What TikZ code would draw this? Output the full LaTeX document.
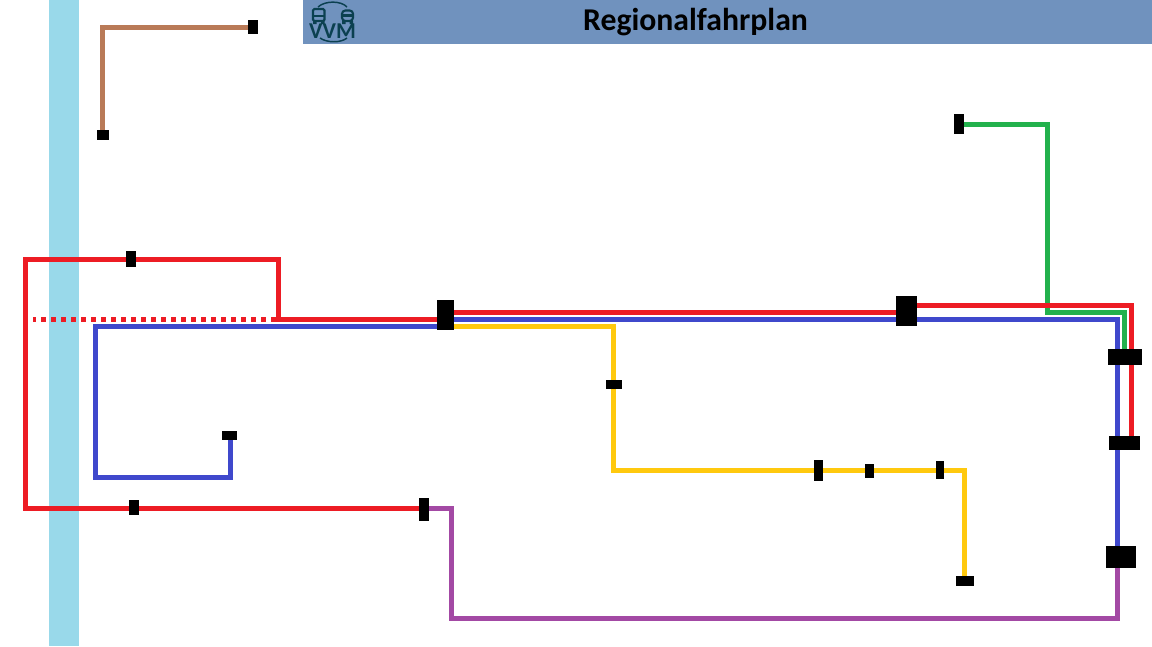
\documentclass[tikz,border=0pt]{standalone}
\usepackage{fontspec}
\setmainfont{Carlito}
\definecolor{lred}{HTML}{ED1C24}
\definecolor{lblue}{HTML}{3F48CC}
\definecolor{lyellow}{HTML}{FFC90E}
\definecolor{lgreen}{HTML}{22B14C}
\definecolor{lpurple}{HTML}{A349A4}
\definecolor{lbrown}{HTML}{B97A57}
\definecolor{river}{HTML}{99D9EA}
\definecolor{header}{HTML}{7092BE}
\definecolor{logo}{HTML}{0B4050}
\tikzset{
  route/.style={line width=3.75pt,miter limit=10,line join=miter},
  halt/.style={fill=black,draw=none,inner sep=0pt,minimum width=#1},
  dotline/.style={line width=3.75pt,dash pattern=on 3.75pt off 3.75pt,dash phase=1.5pt},
  logoline/.style={draw=logo,line width=1.6pt},
  logoarc/.style={draw=logo,line width=1.1pt},
}
\begin{document}
\begin{tikzpicture}[x=0.75pt,y=-0.75pt]
\useasboundingbox (0,0) rectangle (1152,646);
\fill[white] (0,0) rectangle (1152,646);
% river and header
\fill[river] (49,0) rectangle (79,646);
\fill[header] (303,0) rectangle (1152,44);
\node[font=\bfseries\fontsize{23.8pt}{26pt}\selectfont,text=black,inner sep=0pt,anchor=base] (title) at (695.5,30.5) {Regionalfahrplan};
% logo
\draw[logoarc] (318,7) .. controls (325,0.5) and (341,0.5) .. (347,7);
\draw[logoarc] (320,38) .. controls (327,43) and (341,43) .. (347,38);
\draw[logoline,rounded corners=1pt] (313,9) rectangle (324.5,21);
\draw[logoline] (313,16) -- (324.5,16);
\fill[logo] (313,21) rectangle (316.5,24) (321,21) rectangle (324.5,24);
\draw[logoline,rounded corners=2.5pt] (342,10.5) rectangle (353,21);
\draw[logoline] (342,15.5) -- (353,15.5);
\fill[logo] (342,21) rectangle (345.5,24) (349.5,21) rectangle (353,24);
\node[font=\bfseries\fontsize{17pt}{18pt}\selectfont,text=logo,inner sep=0pt,anchor=base] (vvm) at (332.5,38) {VVM};
% corner points
\coordinate (bc) at (102,27);
\coordinate (bs) at (102,135);
\coordinate (be) at (253,27);
\coordinate (rtl) at (25.5,259.5);
\coordinate (rtr) at (278,259.5);
\coordinate (rm) at (278,319.5);
\coordinate (rms) at (271,319.5);
\coordinate (rbl) at (25.5,508.5);
\coordinate (rw) at (445,319.5);
\coordinate (rw2) at (445,312.5);
\coordinate (re) at (906,312.5);
\coordinate (re2) at (906,305.5);
\coordinate (rc) at (1131.5,305.5);
\coordinate (rs) at (1131.5,443);
\coordinate (dots) at (33,319.5);
\coordinate (dote) at (266,319.5);
\coordinate (bl1) at (445,326.5);
\coordinate (bl2) at (95.5,326.5);
\coordinate (bl3) at (95.5,477);
\coordinate (bl4) at (230.5,477);
\coordinate (bl5) at (230.5,435);
\coordinate (bn1) at (445,319.5);
\coordinate (bn2) at (1117.5,319.5);
\coordinate (bn3) at (1117.5,557);
\coordinate (y1) at (445,326.5);
\coordinate (y2) at (613.5,326.5);
\coordinate (y3) at (613.5,470);
\coordinate (y4) at (964.5,470);
\coordinate (y5) at (964.5,581);
\coordinate (g1) at (959,124);
\coordinate (g2) at (1047.5,124);
\coordinate (g3) at (1047.5,312.5);
\coordinate (g4) at (1124.5,312.5);
\coordinate (g5) at (1124.5,357);
\coordinate (p1) at (424,508.5);
\coordinate (p2) at (451.5,508.5);
\coordinate (p3) at (451.5,618);
\coordinate (p4) at (1117.5,618);
\coordinate (p5) at (1117.5,557);
% routes
\draw[route,lbrown] (bs) -- (bc) -- (be);
\draw[route,lgreen] (g1) -- (g2) -- (g3) -- (g4) -- (g5);
\draw[route,lpurple] (p1) -- (p2) -- (p3) -- (p4) -- (p5);
\draw[route,lred] (p1) -- (rbl) -- (rtl) -- (rtr) -- (rm);
\draw[route,lred] (rms) -- (rw);
\draw[route,lred] (rw2) -- (re);
\draw[route,lred] (re2) -- (rc) -- (rs);
\draw[dotline,lred] (dots) -- (dote);
\draw[route,lblue] (bl1) -- (bl2) -- (bl3) -- (bl4) -- (bl5);
\draw[route,lblue] (bn1) -- (bn2) -- (bn3);
\draw[route,lyellow] (y1) -- (y2) -- (y3) -- (y4) -- (y5);
% halts
\node[halt=7.5pt,minimum height=10.5pt] (h1) at (253,27) {};
\node[halt=9pt,minimum height=7.5pt] (h2) at (103,135) {};
\node[halt=7.5pt,minimum height=15pt] (h3) at (959,124) {};
\node[halt=7.5pt,minimum height=12pt] (h4) at (131,259) {};
\node[halt=7.5pt,minimum height=11.25pt] (h5) at (134,507.5) {};
\node[halt=11.25pt,minimum height=6.75pt] (h6) at (229.5,435.5) {};
\node[halt=7.5pt,minimum height=17.25pt] (h7) at (424,509.5) {};
\node[halt=12.75pt,minimum height=22.5pt] (h8) at (445.5,315) {};
\node[halt=15.75pt,minimum height=22.5pt] (h9) at (906.5,311) {};
\node[halt=12pt,minimum height=6.75pt] (h10) at (614,384.5) {};
\node[halt=6.75pt,minimum height=15.75pt] (h11) at (818.5,470.5) {};
\node[halt=6.75pt,minimum height=10.5pt] (h12) at (869.5,471) {};
\node[halt=6pt,minimum height=13.5pt] (h13) at (940,470) {};
\node[halt=13.5pt,minimum height=7.5pt] (h14) at (965,581) {};
\node[halt=25.5pt,minimum height=12pt] (h15) at (1125,357) {};
\node[halt=23.25pt,minimum height=10.5pt] (h16) at (1124.5,443) {};
\node[halt=22.5pt,minimum height=16.5pt] (h17) at (1121,557) {};
\end{tikzpicture}
\end{document}
